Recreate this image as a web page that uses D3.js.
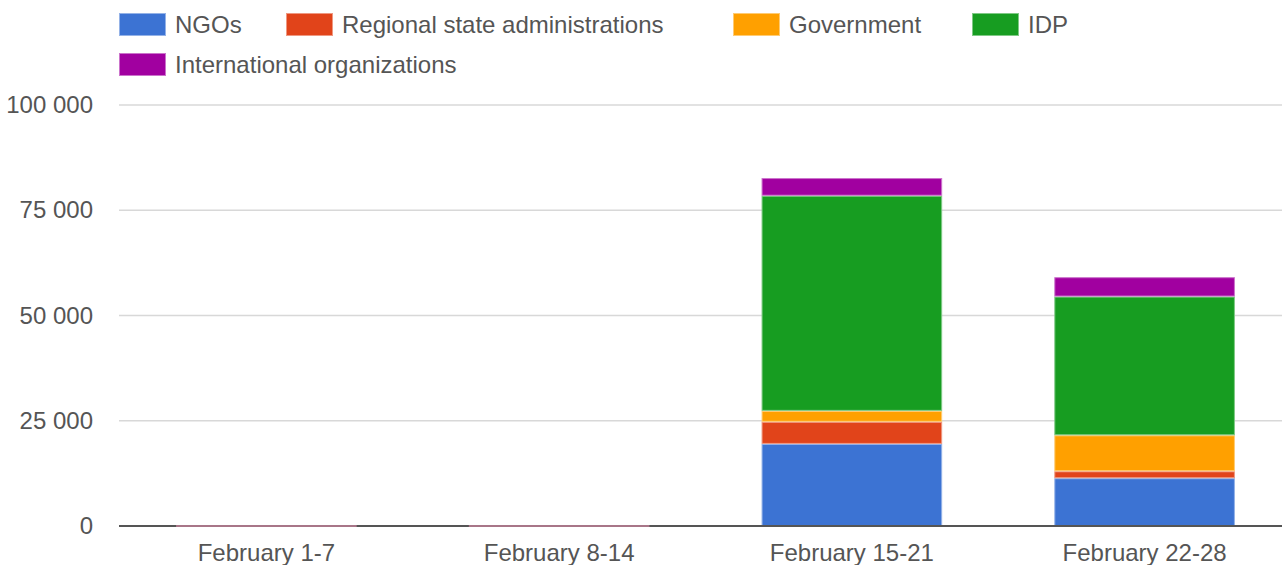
<!DOCTYPE html>
<html>
<head>
<meta charset="utf-8">
<script src="https://cdn.jsdelivr.net/npm/d3@7"></script>
<style>
  html, body { margin: 0; padding: 0; background: #fff; }
  svg { display: block; font-family: "Liberation Sans", Arial, sans-serif; }
</style>
</head>
<body>
<svg id="chart" width="1282" height="565"></svg>
<script>
// Weekly periods (x categories)
const categories = ["February 1-7", "February 8-14", "February 15-21", "February 22-28"];

// Series names, in stacking order (bottom to top)
const seriesNames = ["NGOs", "Regional state administrations", "Government", "IDP", "International organizations"];

// Values per series, one per week
const ngos          = [0, 0, 19500, 11350];
const regional      = [0, 0, 5250, 1650];
const government    = [0, 0, 2600, 8550];
const idp           = [0, 0, 51100, 32950];
const international = [0, 0, 4200, 4600];

const seriesColors = ["#3c73d3", "#e1441a", "#ffa000", "#179d21", "#a100a0"];

// Y axis ticks
const yTicks = [0, 25000, 50000, 75000, 100000];
const yTickLabels = ["0", "25 000", "50 000", "75 000", "100 000"];

// Build a row-per-week table for d3.stack
const seriesValues = [ngos, regional, government, idp, international];
const table = categories.map((c, i) => {
  const row = { category: c };
  seriesNames.forEach((s, j) => { row[s] = seriesValues[j][i]; });
  return row;
});

const svg = d3.select("#chart");

const plot = { left: 119, right: 1292, top: 105, bottom: 526 };

const x = d3.scaleBand()
  .domain(categories)
  .range([plot.left, plot.right])
  .paddingInner(0.383)
  .paddingOuter(0.195);

const y = d3.scaleLinear()
  .domain([0, 100000])
  .range([plot.bottom, plot.top]);

const textColor = "#555";
const fontSize = 24;

// Horizontal gridlines
svg.append("g")
  .selectAll("line")
  .data(yTicks.filter(t => t !== 0))
  .join("line")
  .attr("x1", plot.left)
  .attr("x2", 1282)
  .attr("y1", d => y(d))
  .attr("y2", d => y(d))
  .attr("stroke", "#d8d8d8")
  .attr("stroke-width", 1.5);

// Y axis labels
const yAxis = d3.axisLeft(y)
  .tickValues(yTicks)
  .tickFormat((d, i) => yTickLabels[i])
  .tickSize(0)
  .tickPadding(26);

const gy = svg.append("g")
  .attr("transform", `translate(${plot.left},0)`)
  .call(yAxis);
gy.select(".domain").remove();
gy.selectAll("text")
  .attr("fill", textColor)
  .attr("font-size", fontSize)
  .attr("font-family", "Liberation Sans, Arial, sans-serif");

// Stacked bars
const stack = d3.stack().keys(seriesNames);
const layers = stack(table);

svg.append("g")
  .selectAll("g")
  .data(layers)
  .join("g")
  .attr("fill", (d, i) => seriesColors[i])
  .attr("stroke", (d, i) => d3.interpolateRgb(seriesColors[i], "#ffffff")(0.45))
  .attr("stroke-width", 1)
  .selectAll("rect")
  .data(d => d)
  .join("rect")
  .attr("x", d => x(d.data.category) + 0.5)
  .attr("width", x.bandwidth() - 1)
  .attr("y", d => y(d[1]) + 0.5)
  .attr("height", d => Math.max(0, y(d[0]) - y(d[1]) - 1));

// Baseline
svg.append("line")
  .attr("x1", plot.left)
  .attr("x2", 1282)
  .attr("y1", y(0))
  .attr("y2", y(0))
  .attr("stroke", "#555")
  .attr("stroke-width", 2);

// Zero-value weeks still show a thin tinted line on the baseline
svg.append("g")
  .selectAll("line")
  .data(table.filter(r => d3.sum(seriesNames, s => r[s]) === 0))
  .join("line")
  .attr("x1", d => x(d.category))
  .attr("x2", d => x(d.category) + x.bandwidth())
  .attr("y1", y(0))
  .attr("y2", y(0))
  .attr("stroke", "#a87688")
  .attr("stroke-width", 2);

// X axis labels
const xAxis = d3.axisBottom(x).tickSize(0).tickPadding(18);
const gx = svg.append("g")
  .attr("transform", `translate(0,${plot.bottom})`)
  .call(xAxis);
gx.select(".domain").remove();
gx.selectAll("text")
  .attr("fill", textColor)
  .attr("font-size", fontSize)
  .attr("font-family", "Liberation Sans, Arial, sans-serif");

// Legend (two rows)
const legendPos = [
  { x: 119, y: 13 },
  { x: 286, y: 13 },
  { x: 733, y: 13 },
  { x: 972, y: 13 },
  { x: 119, y: 53 }
];

const legend = svg.append("g")
  .selectAll("g")
  .data(seriesNames)
  .join("g")
  .attr("transform", (d, i) => `translate(${legendPos[i].x},${legendPos[i].y})`);

legend.append("rect")
  .attr("x", 0.5)
  .attr("y", 0.5)
  .attr("width", 46)
  .attr("height", 22)
  .attr("fill", (d, i) => seriesColors[i])
  .attr("stroke", (d, i) => d3.interpolateRgb(seriesColors[i], "#ffffff")(0.45))
  .attr("stroke-width", 1);

legend.append("text")
  .attr("x", 56)
  .attr("y", 11.5)
  .attr("dy", "0.35em")
  .attr("fill", textColor)
  .attr("font-size", fontSize)
  .text(d => d);
</script>
</body>
</html>
